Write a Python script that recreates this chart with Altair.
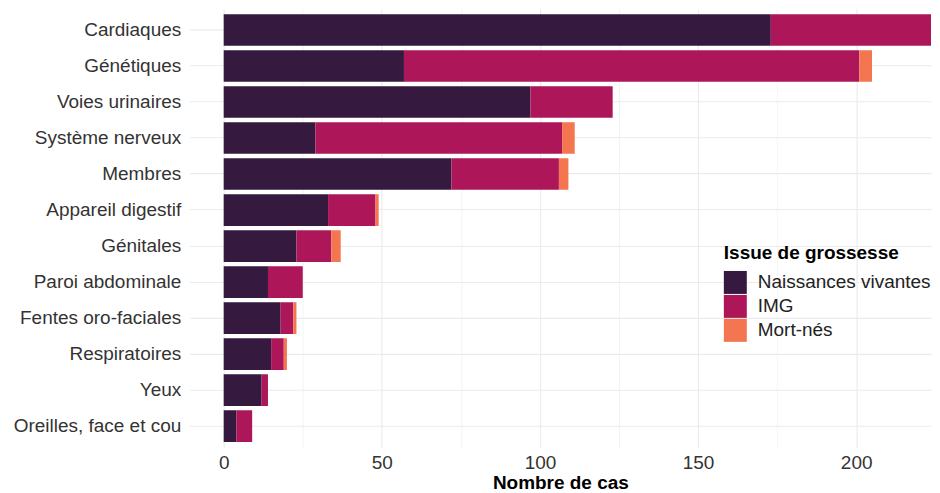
import altair as alt
import pandas as pd

categories = ["Cardiaques", "Génétiques", "Voies urinaires", "Système nerveux", "Membres",
              "Appareil digestif", "Génitales", "Paroi abdominale", "Fentes oro-faciales",
              "Respiratoires", "Yeux", "Oreilles, face et cou"]
naissances = [173, 57, 97, 29, 72, 33, 23, 14, 18, 15, 12, 4]
img = [80, 144, 26, 78, 34, 15, 11, 11, 4, 4, 2, 5]
mort_nes = [3, 4, 0, 4, 3, 1, 3, 0, 1, 1, 0, 0]
series = ["Naissances vivantes", "IMG", "Mort-nés"]
colors = ["#35193e", "#ad1759", "#f37651"]

rows = []
for i, c in enumerate(categories):
    for j, (s, vals) in enumerate(zip(series, [naissances, img, mort_nes])):
        rows.append({"cat": c, "issue": s, "n": vals[i], "ord": j})
df = pd.DataFrame(rows)

grid_vals = list(range(0, 226, 25))
FONT = "Liberation Sans"
FS = 19

chart = alt.Chart(df).mark_bar(clip=True).encode(
    y=alt.Y("cat:N", sort=categories, title=None,
            scale=alt.Scale(paddingInner=0.12, paddingOuter=0.16),
            axis=alt.Axis(ticks=False, domain=False, labelFontSize=FS, labelColor="#333333",
                          labelFont=FONT, labelPadding=9, grid=True,
                          gridColor="#ebebeb", gridWidth=1.1, bandPosition=0.5,
                          minExtent=181.5, maxExtent=181.5)),
    x=alt.X("sum(n):Q", title="Nombre de cas", stack="zero",
            scale=alt.Scale(domain=[-10.75, 223.66], nice=False, zero=False),
            axis=alt.Axis(values=grid_vals, ticks=False, domain=False,
                          labelExpr="datum.value % 50 === 0 ? datum.label : ''",
                          labelFontSize=FS, labelColor="#333333", labelFont=FONT,
                          labelPadding=6, titleFontSize=FS, titleFont=FONT,
                          titleFontWeight="bold", titleColor="#000000", titlePadding=1,
                          gridColor="#ebebeb",
                          gridWidth={"condition": {"test": "datum.value % 50 === 0", "value": 1.1}, "value": 0.55})),
    color=alt.Color("issue:N", sort=series, scale=alt.Scale(domain=series, range=colors),
                    legend=alt.Legend(title="Issue de grossesse", orient="none",
                                      legendX=535, legendY=236, padding=0,
                                      titleFontSize=FS, titleFont=FONT,
                                      titleFontWeight="bold", titleColor="#000000",
                                      titlePadding=8, titleLimit=400,
                                      labelFontSize=FS, labelFont=FONT, labelLimit=400,
                                      labelColor="#222222", symbolType="square",
                                      symbolSize=529, symbolStrokeWidth=0,
                                      symbolOpacity=1, rowPadding=1, labelOffset=11)),
    order=alt.Order("ord:Q"),
).properties(
    width=742.5, height=440, padding={"top": 0, "left": 0, "right": 0, "bottom": 0}
).configure_view(stroke=None)

chart.save("out.html", embed_options={"renderer": "svg", "actions": False})
